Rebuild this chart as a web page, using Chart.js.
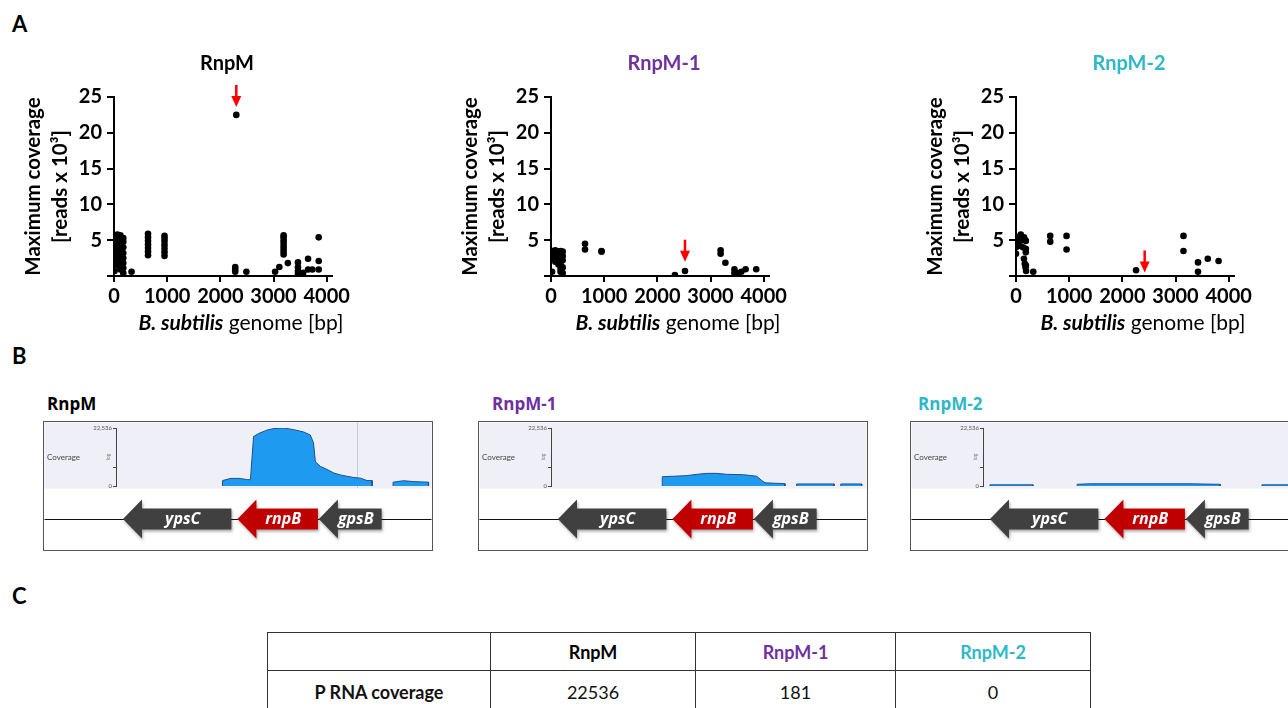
<!DOCTYPE html>
<html>
<head>
<meta charset="utf-8">
<script src="https://cdn.jsdelivr.net/npm/chart.js@4.4.1/dist/chart.umd.min.js"></script>
<style>
  body { margin: 0; width: 1288px; height: 708px; overflow: hidden; background: #fff; position: relative; font-family: Lato, sans-serif; }
  canvas { position: absolute; }
  .panel { position: absolute; font: bold 22px/1.2 Lato; color: #000; }
  .box { position: absolute; width: 390px; height: 130px; border: 1.5px solid #555; box-sizing: border-box; }
  .btitle { position: absolute; font: bold 17px/20px "Open Sans"; }
  table { position: absolute; left: 267px; top: 632px; border-collapse: collapse; font: 18px Lato; color: #111; }
  td { border: 1.5px solid #333; text-align: center; padding: 0; }
</style>
</head>
<body>
<div class="panel" style="left:12px;top:11px">A</div>
<div class="panel" style="left:12px;top:343px">B</div>
<div class="panel" style="left:12px;top:583px">C</div>

<canvas id="scatter0" width="362" height="345" style="left:0px;top:0px"></canvas>
<canvas id="scatter1" width="362" height="345" style="left:437px;top:0px"></canvas>
<canvas id="scatter2" width="362" height="345" style="left:902px;top:0px"></canvas>

<div class="btitle" style="left:47px;top:394px;color:#000">RnpM</div>
<div class="btitle" style="left:492px;top:394px;color:#7030A0">RnpM-1</div>
<div class="btitle" style="left:918px;top:394px;color:#2EB8C8">RnpM-2</div>
<div class="box" style="left:43px;top:421px"></div>
<div class="box" style="left:478px;top:421px"></div>
<div class="box" style="left:910px;top:421px"></div>
<canvas id="track0" width="390" height="130" style="left:43px;top:421px"></canvas>
<canvas id="track1" width="390" height="130" style="left:478px;top:421px"></canvas>
<canvas id="track2" width="390" height="130" style="left:910px;top:421px"></canvas>

<table id="summary"></table>

<script>
// ---- panel A: max coverage per locus ----
const genomeTicks = [0, 1000, 2000, 3000, 4000];
const coverageTicks = [0, 5, 10, 15, 20, 25];

const rnpmX = [10,10,10,10,10,10,10,10,10, 65,65,65,65,65,65,65,65,65, 120,120,120,120,120,120,120,120,120,
  175,175,175,175,175,175,175,175, 330, 640,640,640,640,640,640,640, 950,950,950,950,950,950,950,
  2280,2280,2280, 2300, 2490, 3030, 3110, 3190,3190,3190,3190,3190,3190,3190,3190, 3270,
  3460,3460,3460,3460, 3560, 3650,3650, 3730, 3850,3850,3850];
const rnpmY = [0.7,2.0,2.6,3.2,3.7,4.2,4.7,5.2,5.6, 1.5,2.2,2.8,3.3,3.9,4.4,5.0,5.5,5.8, 0.9,1.6,2.3,3.0,3.5,4.1,4.6,5.2,5.7,
  0.4,1.1,1.8,2.5,3.2,4.0,4.8,5.3, 0.6, 2.9,3.4,3.9,4.4,4.9,5.4,5.9, 2.8,3.3,3.8,4.3,4.8,5.2,5.6,
  0.6,0.9,1.25, 22.5, 0.6, 0.6, 1.25, 3.0,3.4,3.8,4.2,4.6,5.0,5.4,5.7, 1.8,
  0.3,0.7,1.2,1.9, 0.45, 0.9,2.4, 0.9, 0.9,2.1,5.4];

const rnpm1X = [20,20,20, 80,80,80,80,80, 140,140,140,140, 180,180,180,180,180,180,180, 220,220,220,220,220,
  640,640, 950,950, 2330, 2520, 3190,3190, 3280, 3450,3450, 3500, 3580, 3660, 3860];
const rnpm1Y = [0.6,2.6,3.5, 2.0,2.4,2.8,3.2,3.6, 1.6,2.0,2.5,3.4, 0.6,1.0,1.5,2.0,2.5,3.0,3.5, 0.4,1.2,2.2,2.8,3.4,
  3.7,4.5, 3.4,3.5, 0.15, 0.7, 3.1,3.6, 1.85, 0.4,0.95, 0.4, 0.6, 0.95, 0.95];

const rnpm2X = [0, 0, 30, 40, 65, 90, 110, 130, 150, 170, 185, 185, 185, 150, 165, 185, 180, 190, 325,
  644, 644, 951, 951, 2258, 3150, 3150, 3423, 3423, 3607, 3810];
const rnpm2Y = [3.1, 4.0, 5.4, 4.2, 4.7, 5.8, 5.1, 4.0, 5.4, 5.0, 4.9, 3.8, 3.3, 2.4, 1.7, 1.5, 1.2, 0.7, 0.6,
  4.8, 5.6, 3.7, 5.6, 0.8, 3.5, 5.6, 0.6, 1.9, 2.4, 2.1];

// red arrows marking the rnpB locus (x in bp, tip in reads x 10^3)
const arrowX = [2300, 2520, 2420];
const arrowTip = [23.6, 2.0, 0.5];

const strains = ['RnpM', 'RnpM-1', 'RnpM-2'];
const strainColors = ['#000000', '#7030A0', '#2EB8C8'];

// ---- panel B: coverage tracks (x = position in window, y = reads) ----
const trackTicks = [0, 7200, 22536];
const rnpmCovX = [336, 336, 361, 392, 413, 424, 434, 450, 476, 497, 529, 560, 592, 613, 623, 629, 645, 666, 686, 707, 728, 750, 771, 792, 808, 808,
  840, 874, 874, 907, 939, 986, 986];
const rnpmCovY = [0, 2100, 2950, 2950, 2470, 2470, 19200, 20400, 21700, 22300, 22536, 21900, 21000, 19800, 16800, 9400, 7600, 6400, 5100, 4300, 3800, 3300, 3050, 2100, 2100, 0,
  null, 0, 1480, 2050, 1700, 1480, 0];
const rnpm1CovX = [351, 351, 386, 428, 460, 491, 523, 554, 607, 649, 665, 675, 738, 738, 756, 775, 775, 893, 893, 903, 914, 914, 980, 980];
const rnpm1CovY = [0, 3600, 3790, 4030, 4530, 4910, 4910, 4530, 4400, 3780, 2140, 1240, 900, 0, null, 0, 790, 790, 0, null, 0, 790, 790, 0];
const rnpm2CovX = [22, 22, 158, 158, 230, 297, 297, 338, 653, 748, 748, 815, 880, 880, 1000];
const rnpm2CovY = [0, 450, 450, 0, null, 0, 650, 850, 850, 650, 0, null, 0, 450, 450];
const rnpmMarkers = [760];

const geneNames = ['ypsC', 'rnpB', 'gpsB'];
const geneStart = [22, 383, 640];
const geneEnd = [364, 637, 838];
const geneColors = ['#404040', '#C00000', '#404040'];

// ---- panel C ----
const tableRowLabel = 'P RNA coverage';
const pRnaCoverage = [22536, 181, 0];

Chart.defaults.font.family = 'Lato';
Chart.defaults.color = '#000';

const scatterExtras = {
  id: 'scatterExtras',
  afterDraw(chart, args, opts) {
    const {ctx, chartArea: a, scales: {x, y}} = chart;
    const cx = (a.left + a.right) / 2;
    ctx.save();
    ctx.textBaseline = 'middle';
    ctx.fillStyle = opts.color;
    ctx.textAlign = 'center';
    ctx.font = 'bold 20px Lato';
    ctx.fillText(opts.title, cx + 4, a.top - 33);

    // x axis title, species name in italics
    ctx.fillStyle = '#000';
    ctx.textAlign = 'left';
    const sp = 'B. subtilis', rest = ' genome [bp]';
    ctx.font = 'italic bold 21px Lato';
    const w1 = ctx.measureText(sp).width;
    ctx.font = '21px Lato';
    const w2 = ctx.measureText(rest).width;
    const x0 = cx + 18 - (w1 + w2) / 2;
    const ty = a.bottom + 47;
    ctx.font = 'italic bold 21px Lato';
    ctx.fillText(sp, x0, ty);
    ctx.font = '21px Lato';
    ctx.fillText(rest, x0 + w1, ty);

    // red arrow
    const px = x.getPixelForValue(opts.arrowX);
    const tip = y.getPixelForValue(opts.arrowTip);
    ctx.fillStyle = ctx.strokeStyle = '#FF0000';
    ctx.lineWidth = 2.5;
    ctx.beginPath();
    ctx.moveTo(px, tip - 22);
    ctx.lineTo(px, tip - 9);
    ctx.stroke();
    ctx.beginPath();
    ctx.moveTo(px - 5, tip - 11);
    ctx.lineTo(px + 5, tip - 11);
    ctx.lineTo(px, tip);
    ctx.closePath();
    ctx.fill();
    ctx.restore();
  }
};

function drawScatter(id, xs, ys, k) {
  const points = xs.map((v, i) => ({x: v, y: ys[i]}));
  return new Chart(document.getElementById(id), {
    type: 'scatter',
    data: {datasets: [{data: points, backgroundColor: '#000', borderWidth: 0, pointRadius: 3.3, pointHoverRadius: 3.3}]},
    options: {
      responsive: false,
      animation: false,
      layout: {padding: {top: 97, right: 30, bottom: 0, left: 0}},
      plugins: {
        legend: {display: false},
        tooltip: {enabled: false},
        scatterExtras: {title: strains[k], color: strainColors[k], arrowX: arrowX[k], arrowTip: arrowTip[k]}
      },
      scales: {
        x: {
          type: 'linear', min: 0, max: 4100,
          afterBuildTicks: s => { s.ticks = genomeTicks.map(v => ({value: v})); },
          afterFit: s => { s.height = 69; },
          border: {color: '#000', width: 2},
          grid: {drawOnChartArea: false, color: '#000', lineWidth: 2, tickLength: 6},
          ticks: {color: '#000', font: {size: 20, weight: 'bold'}, padding: 3, maxRotation: 0, autoSkip: false,
            callback: v => String(v)}
        },
        y: {
          min: 0, max: 25,
          afterBuildTicks: s => { s.ticks = coverageTicks.map(v => ({value: v})); },
          afterFit: s => { s.width = 114; },
          border: {color: '#000', width: 2},
          grid: {drawOnChartArea: false, color: '#000', lineWidth: 2, tickLength: 7},
          ticks: {color: '#000', font: {size: 20, weight: 'bold'}, padding: 5, callback: v => v === 0 ? '' : String(v)},
          title: {
            display: true,
            text: ['Maximum coverage', '[reads x 10\u00B3]'],
            color: '#000',
            font: {size: 20.5, weight: 'bold', lineHeight: 1.32},
            padding: {top: 20, bottom: 0}
          }
        }
      }
    },
    plugins: [scatterExtras]
  });
}

drawScatter('scatter0', rnpmX, rnpmY, 0);
drawScatter('scatter1', rnpm1X, rnpm1Y, 1);
drawScatter('scatter2', rnpm2X, rnpm2Y, 2);

const trackExtras = {
  id: 'trackExtras',
  beforeDraw(chart, args, opts) {
    const {ctx, chartArea: a, width, scales: {x}} = chart;
    ctx.save();
    ctx.fillStyle = '#EFEFF8';
    ctx.fillRect(1.5, 1.5, width - 3, a.bottom + 1);
    ctx.fillStyle = '#444';
    ctx.font = '8px Lato';
    ctx.textBaseline = 'middle';
    ctx.fillText('Coverage', 4, (a.top + a.bottom) / 2);
    ctx.strokeStyle = '#C8C8D4';
    ctx.lineWidth = 1;
    opts.markers.forEach(m => {
      const px = Math.round(x.getPixelForValue(m)) + 0.5;
      ctx.beginPath();
      ctx.moveTo(px, 1.5);
      ctx.lineTo(px, a.bottom + 2);
      ctx.stroke();
    });
    ctx.restore();
  },
  afterDraw(chart) {
    const {ctx, chartArea: a, width, scales: {x}} = chart;
    const cy = a.bottom + 33;
    ctx.save();
    ctx.strokeStyle = '#111';
    ctx.lineWidth = 1;
    ctx.beginPath();
    ctx.moveTo(1.5, cy + 0.5);
    ctx.lineTo(width - 1.5, cy + 0.5);
    ctx.stroke();
    geneNames.forEach((name, i) => {
      const tipX = x.getPixelForValue(geneStart[i]);
      const endX = x.getPixelForValue(geneEnd[i]);
      const headX = tipX + 19;
      ctx.save();
      ctx.shadowColor = 'rgba(0,0,0,0.35)';
      ctx.shadowBlur = 3;
      ctx.shadowOffsetX = 1;
      ctx.shadowOffsetY = 2;
      ctx.fillStyle = geneColors[i];
      ctx.beginPath();
      ctx.moveTo(tipX, cy);
      ctx.lineTo(headX, cy - 19.5);
      ctx.lineTo(headX, cy - 10.5);
      ctx.lineTo(endX, cy - 10.5);
      ctx.lineTo(endX, cy + 10.5);
      ctx.lineTo(headX, cy + 10.5);
      ctx.lineTo(headX, cy + 19.5);
      ctx.closePath();
      ctx.fill();
      ctx.restore();
      ctx.fillStyle = '#fff';
      ctx.font = 'italic bold 16px "Open Sans"';
      ctx.textAlign = 'center';
      ctx.textBaseline = 'middle';
      ctx.fillText(name, (headX + endX) / 2 - 4, cy);
    });
    ctx.restore();
  }
};

function drawTrack(id, xs, ys, markers) {
  const points = xs.map((v, i) => ({x: v, y: ys[i]}));
  return new Chart(document.getElementById(id), {
    type: 'line',
    data: {datasets: [{data: points, fill: 'origin', backgroundColor: '#1E9BF0', borderColor: '#1F4E8C',
      borderWidth: 1, pointRadius: 0, tension: 0, spanGaps: false}]},
    options: {
      responsive: false,
      animation: false,
      layout: {padding: {top: 7, right: 0, bottom: 65, left: 0}},
      plugins: {legend: {display: false}, tooltip: {enabled: false}, trackExtras: {markers}},
      scales: {
        x: {type: 'linear', min: 0, max: 1000, display: false},
        y: {
          min: 0, max: 22536,
          afterBuildTicks: s => { s.ticks = trackTicks.map(v => ({value: v})); },
          afterFit: s => { s.width = 73; },
          border: {color: '#444', width: 1},
          grid: {drawOnChartArea: false, color: '#444', tickLength: 3},
          ticks: {color: '#555', font: {size: 6}, padding: 1,
            callback: v => v === 22536 ? '22,536' : (v === 0 ? '0' : '')},
          title: {display: true, text: 'log', color: '#777', font: {size: 5}, padding: {top: 62, bottom: 0}}
        }
      }
    },
    plugins: [trackExtras]
  });
}

drawTrack('track0', rnpmCovX, rnpmCovY, rnpmMarkers);
drawTrack('track1', rnpm1CovX, rnpm1CovY, []);
drawTrack('track2', rnpm2CovX, rnpm2CovY, []);

// ---- panel C table ----
const colWidths = [222, 204, 199, 194];
const table = document.getElementById('summary');
const head = table.insertRow();
head.style.height = '38px';
const c0 = head.insertCell();
c0.style.width = colWidths[0] + 'px';
strains.forEach((s, i) => {
  const c = head.insertCell();
  c.textContent = s;
  c.style.width = colWidths[i + 1] + 'px';
  c.style.fontWeight = 'bold';
  c.style.color = strainColors[i];
});
const row = table.insertRow();
row.style.height = '42px';
const lab = row.insertCell();
lab.textContent = tableRowLabel;
lab.style.fontWeight = 'bold';
pRnaCoverage.forEach(v => { row.insertCell().textContent = v; });
</script>
</body>
</html>
